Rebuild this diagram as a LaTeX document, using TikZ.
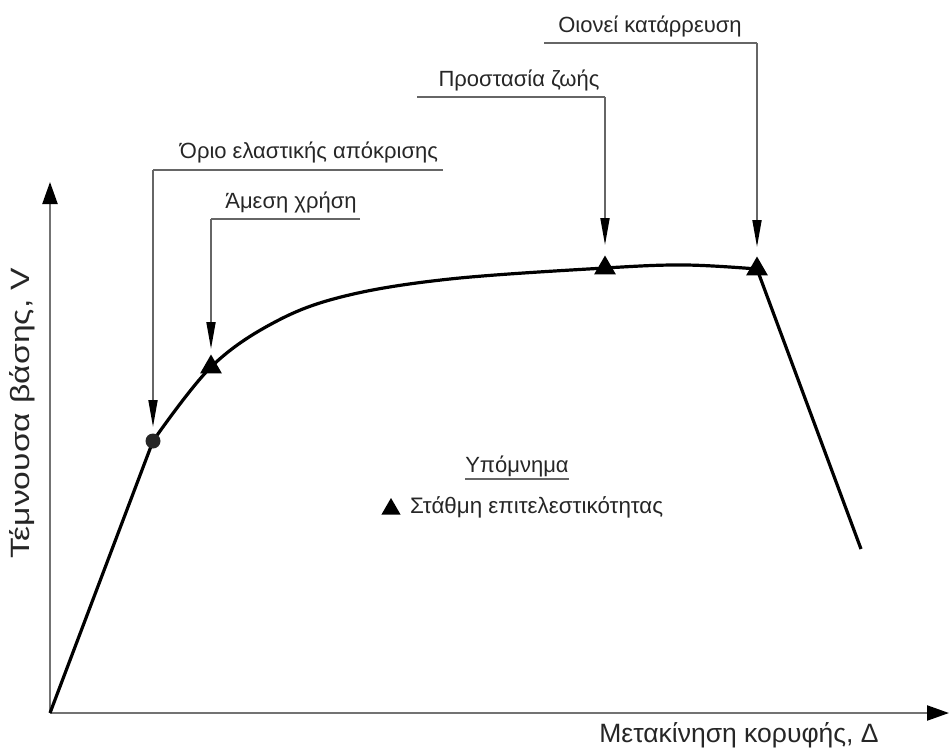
\documentclass[tikz,border=0pt]{standalone}
\usepackage{fontspec}
\setmainfont{Liberation Sans}
\usetikzlibrary{arrows.meta,shapes.geometric}
\begin{document}
\begin{tikzpicture}[x=1pt,y=-1pt,
  lbl/.style={font=\fontsize{22}{26}\selectfont, text=black!85, inner sep=0pt},
  axlbl/.style={font=\fontsize{26.5}{30}\selectfont, text=black!85, inner sep=0pt},
  leader/.style={draw=black!60, line width=1.8pt},
  leadarrow/.style={draw=black!60, line width=1.8pt, -{Triangle[length=27pt,width=9pt,color=black]}},
  axis/.style={draw=black!55, line width=2.2pt, -{Triangle[length=22pt,width=15pt,color=black]}},
  curve/.style={draw=black, line width=3.2pt, line join=round},
  tri/.style={regular polygon, regular polygon sides=3, fill=black, minimum size=25pt, inner sep=0pt},
  dot/.style={circle, fill=black!85, minimum size=15pt, inner sep=0pt}]
\useasboundingbox (0,0) rectangle (949,749);
% axes
\coordinate (O) at (50,713);
\coordinate (Ytop) at (50,182);
\coordinate (Xend) at (949,713);
\draw[axis] (O) -- (Ytop);
\draw[axis] (O) -- (Xend);
\node[axlbl, rotate=90] (ylab) at (22,413) {\scalebox{1.27}[1]{Τέμνουσα βάσης, V}};
\node[axlbl] (xlab) at (739,735) {Μετακίνηση κορυφής, Δ};
% curve
\coordinate (E) at (153,441);
\coordinate (IO) at (211,367);
\coordinate (LS) at (605,268);
\coordinate (CP) at (757,269);
\coordinate (F) at (861,549);
\draw[curve] (O) -- (E) plot[smooth, tension=0.6] coordinates {(153,441) (211,367) (275,322) (345,296) (450,279) (605,268) (685,265) (757,269)} -- (F);
% markers
\node[dot] (mE) at (E) {};
\node[tri] (mIO) at (IO) {};
\node[tri] (mLS) at (LS) {};
\node[tri] (mCP) at (CP) {};
% leaders
\node[lbl, anchor=base] (tE) at (309,158) {Όριο ελαστικής απόκρισης};
\coordinate (hE1) at (153,170); \coordinate (hE2) at (443,170);
\draw[leader] (hE2) -- (hE1);
\draw[leadarrow] (hE1) -- ([yshift=14pt]E);
\node[lbl, anchor=base] (tIO) at (291,208) {Άμεση χρήση};
\coordinate (hI1) at (211,219); \coordinate (hI2) at (360,219);
\draw[leader] (hI2) -- (hI1);
\draw[leadarrow] (hI1) -- ([yshift=18pt]IO);
\node[lbl, anchor=base] (tLS) at (519,87) {Προστασία ζωής};
\coordinate (hL1) at (605,97); \coordinate (hL2) at (417,97);
\draw[leader] (hL2) -- (hL1);
\draw[leadarrow] (hL1) -- ([yshift=23pt]LS);
\node[lbl, anchor=base] (tCP) at (650,33) {Οιονεί κατάρρευση};
\coordinate (hC1) at (757,43); \coordinate (hC2) at (544,43);
\draw[leader] (hC2) -- (hC1);
\draw[leadarrow] (hC1) -- ([yshift=22pt]CP);
% legend
\node[lbl, anchor=base] (leg) at (517,472) {Υπόμνημα};
\draw[draw=black!60, line width=1.3pt] (leg.west |- 0,479) -- (leg.east |- 0,479);
\node[tri, minimum size=22pt] (legtri) at (391,509) {};
\node[lbl, font=\fontsize{22.4}{26}\selectfont, anchor=base west] (legtxt) at (410,513) {Στάθμη επιτελεστικότητας};
\end{tikzpicture}
\end{document}
